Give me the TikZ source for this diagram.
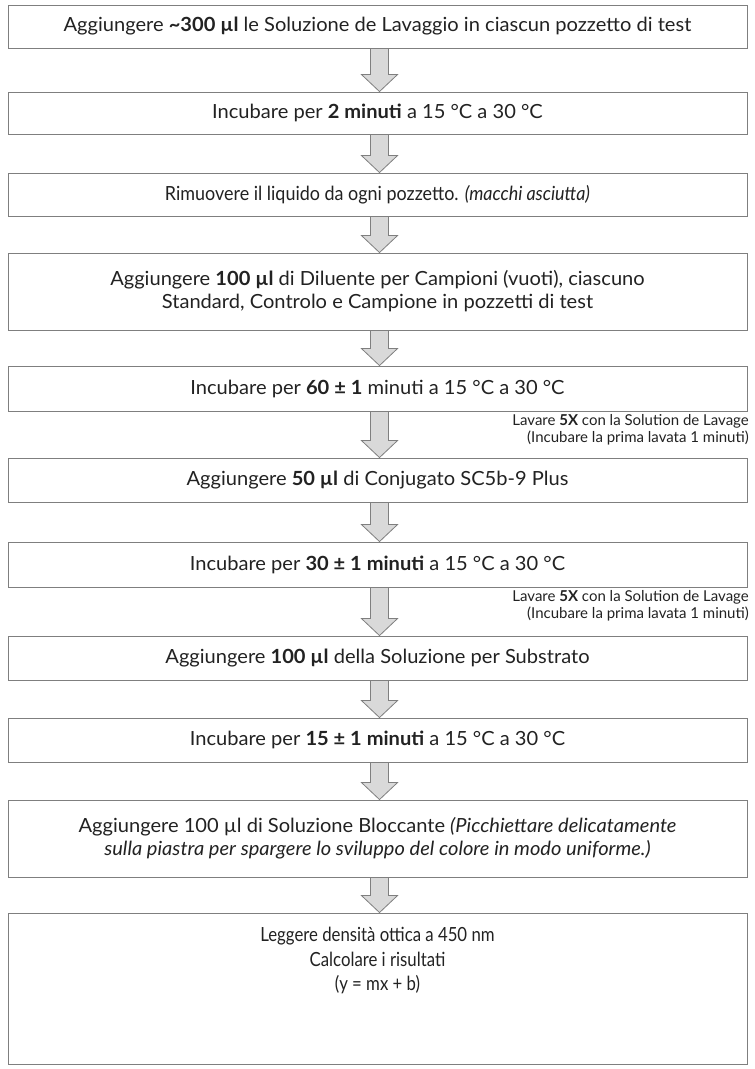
\documentclass[tikz,border=0pt]{standalone}
\usepackage{fontspec}
\setmainfont{Lato}
\newfontfamily\mainfont[FakeStretch=1.03]{Lato}
\newfontfamily\narrowfont[FakeStretch=0.92]{Lato}
\newfontfamily\slimfont[FakeStretch=0.86]{Lato}
\usetikzlibrary{calc}
\definecolor{boxline}{HTML}{7F7F7F}
\definecolor{arrfill}{HTML}{D9D9D9}
\definecolor{txt}{HTML}{222222}
\tikzset{
  stepbox/.style={draw=boxline, line width=0.9pt, fill=white, minimum width=739pt,
    minimum height=#1, inner sep=0pt, align=center, text=txt,
    font=\fontsize{19.5}{23}\selectfont\mainfont},
  narrowbox/.style={stepbox=#1, font=\fontsize{19.5}{23}\selectfont\narrowfont},
  note/.style={anchor=east, align=right, text=txt, inner sep=0pt,
    font=\fontsize{15}{17}\selectfont},
  flow/.style={draw=boxline, fill=arrfill, line width=0.8pt, line join=miter},
}
\newcommand\flowarrow[2]{%
  \path[flow] let \p1=(#1.south), \p2=(#2.north) in
    (\x1-7pt,\y1) -- (\x1-7pt,\y2+17pt) -- (\x1-16pt,\y2+17pt) -- (\x1+2pt,\y2)
    -- (\x1+20pt,\y2+17pt) -- (\x1+11pt,\y2+17pt) -- (\x1+11pt,\y1) -- cycle;}
\begin{document}
\begin{tikzpicture}[x=1pt,y=-1pt]
\useasboundingbox[fill=white] (0,0) rectangle (755,1069);
\node[stepbox=43pt] (b1) at (377.5,26.5) {Aggiungere \textbf{\textasciitilde300 µl} le Soluzione de Lavaggio in ciascun pozzetto di test};
\node[stepbox=42pt] (b2) at (377.5,113) {Incubare per \textbf{2 minuti} a 15 °C a 30 °C};
\node[narrowbox=43pt] (b3) at (377.5,194.5) {Rimuovere il liquido da ogni pozzetto. \textit{(macchi asciutta)}};
\node[stepbox=77pt] (b4) at (377.5,291.5) {Aggiungere \textbf{100 µl} di Diluente per Campioni (vuoti), ciascuno\\Standard, Controlo e Campione in pozzetti di test};
\node[stepbox=45pt] (b5) at (377.5,388.5) {Incubare per \textbf{60 ± 1} minuti a 15 °C a 30 °C};
\node[note] (n1) at (749,430) {Lavare \textbf{5X} con la Solution de Lavage\\(Incubare la prima lavata 1 minuti)};
\node[stepbox=44pt] (b6) at (377.5,480) {Aggiungere \textbf{50 µl} di Conjugato SC5b-9 Plus};
\node[stepbox=45pt] (b7) at (377.5,564.5) {Incubare per \textbf{30 ± 1 minuti} a 15 °C a 30 °C};
\node[note] (n2) at (749,606) {Lavare \textbf{5X} con la Solution de Lavage\\(Incubare la prima lavata 1 minuti)};
\node[stepbox=44pt] (b8) at (377.5,658) {Aggiungere \textbf{100 µl} della Soluzione per Substrato};
\node[stepbox=44pt] (b9) at (377.5,740) {Incubare per \textbf{15 ± 1 minuti} a 15 °C a 30 °C};
\node[stepbox=77pt] (b10) at (377.5,838.5) {Aggiungere 100 µl di Soluzione Bloccante \textit{(Picchiettare delicatamente}\\\textit{sulla piastra per spargere lo sviluppo del colore in modo uniforme.)}};
\node[stepbox=151pt] (b11) at (377.5,988.5) {};
\node[anchor=north, align=center, text=txt, inner sep=0pt,
  font=\fontsize{19.5}{24.5}\selectfont\slimfont] (t11) at (377.5,927) {Leggere densità ottica a 450 nm\\Calcolare i risultati\\(y = mx + b)};
\flowarrow{b1}{b2}
\flowarrow{b2}{b3}
\flowarrow{b3}{b4}
\flowarrow{b4}{b5}
\flowarrow{b5}{b6}
\flowarrow{b6}{b7}
\flowarrow{b7}{b8}
\flowarrow{b8}{b9}
\flowarrow{b9}{b10}
\flowarrow{b10}{b11}
\end{tikzpicture}
\end{document}
